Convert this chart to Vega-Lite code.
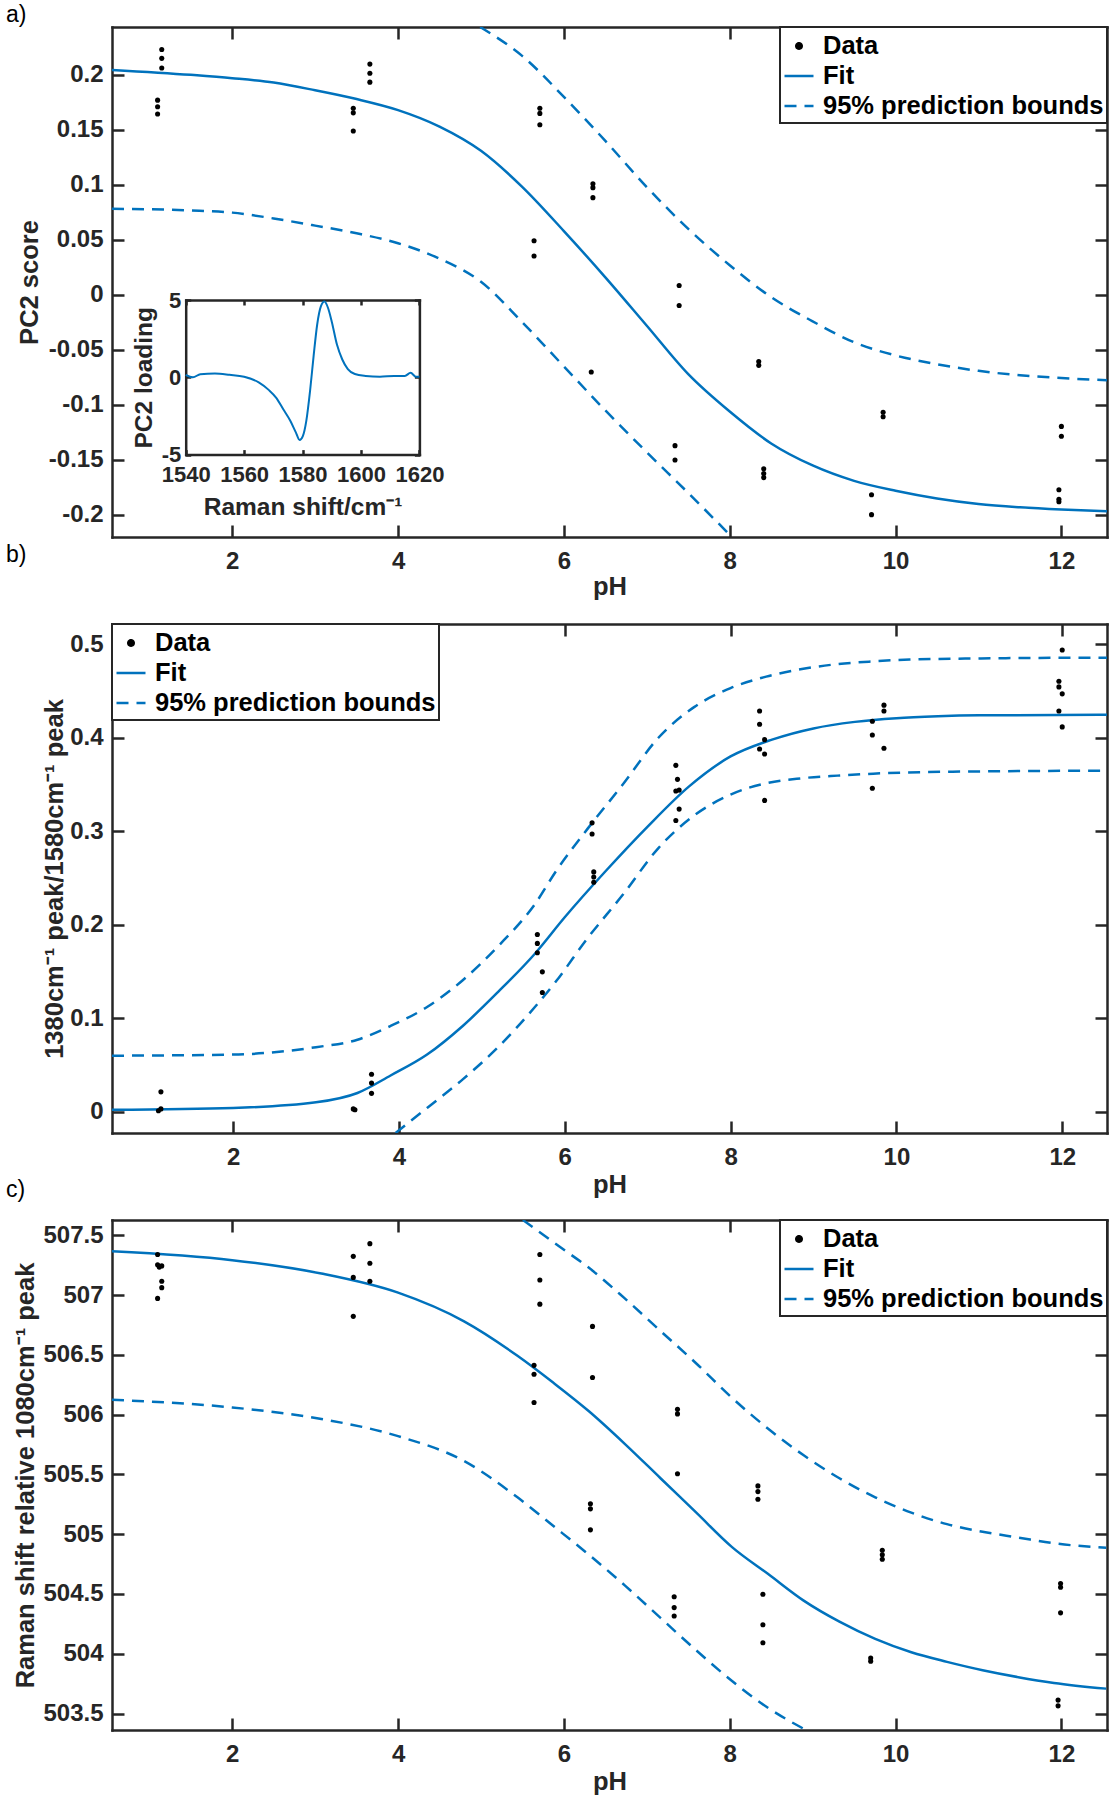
{
  "$schema": "https://vega.github.io/schema/vega-lite/v6.json",
  "background": "white",
  "padding": {"left": 6, "top": 3, "right": 2, "bottom": 2},
  "autosize": {"type": "pad"},
  "bounds": "flush",
  "spacing": 87,
  "resolve": {"scale": {"color": "independent"}, "legend": {"color": "independent"}},
  "config": {
    "font": "Liberation Sans",
    "view": {"stroke": null},
    "axis": {
      "domainColor": "#262626", "domainWidth": 2.5, "domainCap": "square",
      "tickColor": "#262626", "tickWidth": 2.5, "tickSize": -12,
      "grid": false, "minExtent": 0,
      "labelFont": "Liberation Sans", "labelFontSize": 24, "labelFontWeight": "bold", "labelColor": "#262626",
      "labelPadding": 21, "labelFlush": false, "labelOverlap": false,
      "titleFont": "Liberation Sans", "titleFontSize": 25.5, "titleFontWeight": "bold", "titleColor": "#262626"
    },
    "axisX": {"minExtent": 0, "labelPadding": 24},
    "axisY": {"minExtent": 0},
    "legend": {
      "labelFont": "Liberation Sans", "labelFontSize": 25.5, "labelFontWeight": "bold", "labelColor": "#000000", "labelLimit": 0,
      "symbolSize": 841, "labelOffset": 8, "rowPadding": 0, "padding": 3,
      "strokeColor": "#262626", "fillColor": "white", "symbolStrokeWidth": 2.5, "offset": 0
    },
    "title": {"font": "Liberation Sans"}
  },
  "datasets": {
    "a_pts": [
      {"pH": 1.10, "v": 0.177}, {"pH": 1.10, "v": 0.171}, {"pH": 1.10, "v": 0.1644},
      {"pH": 1.15, "v": 0.223}, {"pH": 1.15, "v": 0.215}, {"pH": 1.15, "v": 0.2063},
      {"pH": 3.46, "v": 0.1697}, {"pH": 3.46, "v": 0.1655}, {"pH": 3.46, "v": 0.149},
      {"pH": 3.66, "v": 0.2098}, {"pH": 3.66, "v": 0.2014}, {"pH": 3.66, "v": 0.1934},
      {"pH": 5.64, "v": 0.0493}, {"pH": 5.64, "v": 0.0354},
      {"pH": 5.71, "v": 0.1697}, {"pH": 5.71, "v": 0.165}, {"pH": 5.71, "v": 0.1547},
      {"pH": 6.35, "v": 0.101}, {"pH": 6.35, "v": 0.0975}, {"pH": 6.35, "v": 0.0884}, {"pH": 6.33, "v": -0.070},
      {"pH": 7.39, "v": 0.0086}, {"pH": 7.39, "v": -0.0096}, {"pH": 7.34, "v": -0.137}, {"pH": 7.34, "v": -0.150},
      {"pH": 8.35, "v": -0.0605}, {"pH": 8.35, "v": -0.064},
      {"pH": 8.41, "v": -0.158}, {"pH": 8.41, "v": -0.1624}, {"pH": 8.41, "v": -0.166},
      {"pH": 9.85, "v": -0.1066}, {"pH": 9.85, "v": -0.1107},
      {"pH": 9.71, "v": -0.1816}, {"pH": 9.71, "v": -0.1997},
      {"pH": 12.0, "v": -0.1195}, {"pH": 12.0, "v": -0.1285},
      {"pH": 11.97, "v": -0.177}, {"pH": 11.97, "v": -0.1857}, {"pH": 11.97, "v": -0.188}
    ],
    "a_fit": [
      {"pH": 0.55, "v": 0.2045}, {"pH": 1.5, "v": 0.2}, {"pH": 2.0, "v": 0.197}, {"pH": 2.5, "v": 0.193},
      {"pH": 3.0, "v": 0.186}, {"pH": 3.5, "v": 0.178}, {"pH": 4.0, "v": 0.168}, {"pH": 4.5, "v": 0.153},
      {"pH": 5.0, "v": 0.131}, {"pH": 5.5, "v": 0.098}, {"pH": 6.0, "v": 0.058}, {"pH": 6.5, "v": 0.016},
      {"pH": 7.0, "v": -0.028}, {"pH": 7.5, "v": -0.072}, {"pH": 8.0, "v": -0.106}, {"pH": 8.5, "v": -0.135},
      {"pH": 9.0, "v": -0.155}, {"pH": 9.5, "v": -0.169}, {"pH": 10.0, "v": -0.178}, {"pH": 10.5, "v": -0.185},
      {"pH": 11.0, "v": -0.19}, {"pH": 11.5, "v": -0.193}, {"pH": 12.0, "v": -0.195}, {"pH": 12.55, "v": -0.1965}
    ],
    "a_bnd": [
      {"b": "upper", "pH": 4.99, "v": 0.2435}, {"b": "upper", "pH": 5.5, "v": 0.217}, {"b": "upper", "pH": 6.0, "v": 0.18},
      {"b": "upper", "pH": 6.5, "v": 0.14}, {"b": "upper", "pH": 7.0, "v": 0.098}, {"b": "upper", "pH": 7.5, "v": 0.06},
      {"b": "upper", "pH": 8.0, "v": 0.027}, {"b": "upper", "pH": 8.5, "v": -0.002}, {"b": "upper", "pH": 9.0, "v": -0.024},
      {"b": "upper", "pH": 9.5, "v": -0.043}, {"b": "upper", "pH": 10.0, "v": -0.055}, {"b": "upper", "pH": 10.5, "v": -0.063},
      {"b": "upper", "pH": 11.0, "v": -0.069}, {"b": "upper", "pH": 11.5, "v": -0.073}, {"b": "upper", "pH": 12.0, "v": -0.0755},
      {"b": "upper", "pH": 12.55, "v": -0.0776},
      {"b": "lower", "pH": 0.55, "v": 0.0783}, {"b": "lower", "pH": 1.5, "v": 0.0768}, {"b": "lower", "pH": 2.0, "v": 0.0748},
      {"b": "lower", "pH": 2.5, "v": 0.0695}, {"b": "lower", "pH": 3.0, "v": 0.063}, {"b": "lower", "pH": 3.5, "v": 0.056},
      {"b": "lower", "pH": 4.0, "v": 0.047}, {"b": "lower", "pH": 4.5, "v": 0.033}, {"b": "lower", "pH": 5.0, "v": 0.012},
      {"b": "lower", "pH": 5.5, "v": -0.025}, {"b": "lower", "pH": 6.0, "v": -0.065}, {"b": "lower", "pH": 6.5, "v": -0.105},
      {"b": "lower", "pH": 7.0, "v": -0.143}, {"b": "lower", "pH": 7.5, "v": -0.18}, {"b": "lower", "pH": 8.0, "v": -0.218}
    ],
    "inset": [
      {"shift": 1540, "loading": 0.16}, {"shift": 1542.5, "loading": 0.0}, {"shift": 1545, "loading": 0.2},
      {"shift": 1550, "loading": 0.24}, {"shift": 1555, "loading": 0.16}, {"shift": 1560, "loading": 0.04},
      {"shift": 1565, "loading": -0.33}, {"shift": 1568.5, "loading": -0.83}, {"shift": 1571, "loading": -1.33},
      {"shift": 1573.4, "loading": -2.07}, {"shift": 1575.8, "loading": -2.81}, {"shift": 1577.7, "loading": -3.56},
      {"shift": 1579, "loading": -4.05}, {"shift": 1580.1, "loading": -3.8}, {"shift": 1581.3, "loading": -2.8},
      {"shift": 1582.6, "loading": -0.83}, {"shift": 1583.8, "loading": 1.4}, {"shift": 1585, "loading": 3.4},
      {"shift": 1586.3, "loading": 4.6}, {"shift": 1587.5, "loading": 4.9}, {"shift": 1588.7, "loading": 4.5},
      {"shift": 1590, "loading": 3.6}, {"shift": 1591.8, "loading": 2.1}, {"shift": 1593.6, "loading": 1.15},
      {"shift": 1595.5, "loading": 0.53}, {"shift": 1597.9, "loading": 0.21}, {"shift": 1601.6, "loading": 0.09},
      {"shift": 1606.5, "loading": 0.04}, {"shift": 1611.4, "loading": 0.09}, {"shift": 1615, "loading": 0.09},
      {"shift": 1617, "loading": 0.29}, {"shift": 1618.8, "loading": 0.04}, {"shift": 1620, "loading": 0.04}
    ],
    "b_pts": [
      {"pH": 1.13, "v": 0.0212}, {"pH": 1.13, "v": 0.003}, {"pH": 1.10, "v": 0.001},
      {"pH": 3.47, "v": 0.002}, {"pH": 3.45, "v": 0.003},
      {"pH": 3.67, "v": 0.040}, {"pH": 3.67, "v": 0.0306}, {"pH": 3.67, "v": 0.0196},
      {"pH": 5.67, "v": 0.1895}, {"pH": 5.67, "v": 0.180}, {"pH": 5.67, "v": 0.170}, {"pH": 5.73, "v": 0.1496}, {"pH": 5.73, "v": 0.1275},
      {"pH": 6.33, "v": 0.309}, {"pH": 6.33, "v": 0.297}, {"pH": 6.35, "v": 0.2565}, {"pH": 6.35, "v": 0.251}, {"pH": 6.35, "v": 0.2455},
      {"pH": 7.34, "v": 0.3705}, {"pH": 7.36, "v": 0.3555}, {"pH": 7.34, "v": 0.343}, {"pH": 7.38, "v": 0.344}, {"pH": 7.38, "v": 0.3237}, {"pH": 7.34, "v": 0.3115},
      {"pH": 8.35, "v": 0.4287}, {"pH": 8.35, "v": 0.4145}, {"pH": 8.35, "v": 0.388}, {"pH": 8.41, "v": 0.398}, {"pH": 8.41, "v": 0.3827}, {"pH": 8.41, "v": 0.333},
      {"pH": 9.71, "v": 0.4177}, {"pH": 9.71, "v": 0.403}, {"pH": 9.71, "v": 0.346},
      {"pH": 9.85, "v": 0.4349}, {"pH": 9.85, "v": 0.4287}, {"pH": 9.85, "v": 0.3888},
      {"pH": 12.0, "v": 0.4939}, {"pH": 11.96, "v": 0.4605}, {"pH": 11.96, "v": 0.4544}, {"pH": 12.0, "v": 0.447}, {"pH": 11.96, "v": 0.4287}, {"pH": 12.0, "v": 0.4116}
    ],
    "b_fit": [
      {"pH": 0.54, "v": 0.002}, {"pH": 2.0, "v": 0.004}, {"pH": 3.0, "v": 0.010}, {"pH": 3.5, "v": 0.02},
      {"pH": 3.9, "v": 0.0387}, {"pH": 4.34, "v": 0.0611}, {"pH": 4.77, "v": 0.0917}, {"pH": 5.2, "v": 0.1284},
      {"pH": 5.64, "v": 0.169}, {"pH": 6.0, "v": 0.208}, {"pH": 6.5, "v": 0.258}, {"pH": 7.0, "v": 0.305},
      {"pH": 7.5, "v": 0.348}, {"pH": 8.0, "v": 0.38}, {"pH": 8.5, "v": 0.398}, {"pH": 9.0, "v": 0.41},
      {"pH": 9.5, "v": 0.417}, {"pH": 10.0, "v": 0.421}, {"pH": 10.5, "v": 0.423}, {"pH": 11.0, "v": 0.424}, {"pH": 12.54, "v": 0.4247}
    ],
    "b_bnd": [
      {"b": "upper", "pH": 0.54, "v": 0.0599}, {"b": "upper", "pH": 2.0, "v": 0.0611}, {"b": "upper", "pH": 3.0, "v": 0.069},
      {"b": "upper", "pH": 3.5, "v": 0.077}, {"b": "upper", "pH": 3.9, "v": 0.0917}, {"b": "upper", "pH": 4.34, "v": 0.112},
      {"b": "upper", "pH": 4.77, "v": 0.1406}, {"b": "upper", "pH": 5.2, "v": 0.1773}, {"b": "upper", "pH": 5.64, "v": 0.222},
      {"b": "upper", "pH": 5.9, "v": 0.258}, {"b": "upper", "pH": 6.27, "v": 0.302}, {"b": "upper", "pH": 6.7, "v": 0.35},
      {"b": "upper", "pH": 7.13, "v": 0.4}, {"b": "upper", "pH": 7.56, "v": 0.4328}, {"b": "upper", "pH": 8.0, "v": 0.4532},
      {"b": "upper", "pH": 8.43, "v": 0.4654}, {"b": "upper", "pH": 8.86, "v": 0.4735}, {"b": "upper", "pH": 9.29, "v": 0.4788},
      {"b": "upper", "pH": 9.72, "v": 0.4817}, {"b": "upper", "pH": 10.16, "v": 0.4837}, {"b": "upper", "pH": 11.02, "v": 0.4849},
      {"b": "upper", "pH": 12.54, "v": 0.4857},
      {"b": "lower", "pH": 3.96, "v": -0.0228}, {"b": "lower", "pH": 4.34, "v": 0.004}, {"b": "lower", "pH": 4.77, "v": 0.0346},
      {"b": "lower", "pH": 5.2, "v": 0.0693}, {"b": "lower", "pH": 5.64, "v": 0.112}, {"b": "lower", "pH": 5.9, "v": 0.14},
      {"b": "lower", "pH": 6.27, "v": 0.185}, {"b": "lower", "pH": 6.7, "v": 0.232}, {"b": "lower", "pH": 7.13, "v": 0.282},
      {"b": "lower", "pH": 7.56, "v": 0.3168}, {"b": "lower", "pH": 8.0, "v": 0.3392}, {"b": "lower", "pH": 8.43, "v": 0.3514},
      {"b": "lower", "pH": 8.86, "v": 0.3567}, {"b": "lower", "pH": 9.29, "v": 0.3595}, {"b": "lower", "pH": 9.72, "v": 0.3616},
      {"b": "lower", "pH": 10.59, "v": 0.3636}, {"b": "lower", "pH": 12.54, "v": 0.3648}
    ],
    "c_pts": [
      {"pH": 1.10, "v": 507.34}, {"pH": 1.10, "v": 507.254}, {"pH": 1.12, "v": 507.234}, {"pH": 1.10, "v": 506.972},
      {"pH": 1.15, "v": 507.244}, {"pH": 1.15, "v": 507.116}, {"pH": 1.15, "v": 507.062},
      {"pH": 3.46, "v": 507.324}, {"pH": 3.46, "v": 507.148}, {"pH": 3.46, "v": 506.822},
      {"pH": 3.66, "v": 507.43}, {"pH": 3.66, "v": 507.266}, {"pH": 3.66, "v": 507.116},
      {"pH": 5.64, "v": 506.412}, {"pH": 5.64, "v": 506.338}, {"pH": 5.64, "v": 506.102},
      {"pH": 5.71, "v": 507.34}, {"pH": 5.71, "v": 507.126}, {"pH": 5.71, "v": 506.924},
      {"pH": 6.345, "v": 506.738}, {"pH": 6.345, "v": 506.31},
      {"pH": 6.32, "v": 505.254}, {"pH": 6.32, "v": 505.212}, {"pH": 6.32, "v": 505.036},
      {"pH": 7.37, "v": 506.044}, {"pH": 7.37, "v": 506.006}, {"pH": 7.37, "v": 505.506},
      {"pH": 7.33, "v": 504.476}, {"pH": 7.33, "v": 504.386}, {"pH": 7.33, "v": 504.316},
      {"pH": 8.34, "v": 505.404}, {"pH": 8.34, "v": 505.356}, {"pH": 8.34, "v": 505.292},
      {"pH": 8.40, "v": 504.498}, {"pH": 8.40, "v": 504.242}, {"pH": 8.40, "v": 504.092},
      {"pH": 9.84, "v": 504.866}, {"pH": 9.84, "v": 504.828}, {"pH": 9.84, "v": 504.79},
      {"pH": 9.70, "v": 503.964}, {"pH": 9.70, "v": 503.938},
      {"pH": 11.99, "v": 504.588}, {"pH": 11.99, "v": 504.556}, {"pH": 11.99, "v": 504.342},
      {"pH": 11.96, "v": 503.612}, {"pH": 11.96, "v": 503.564}
    ],
    "c_fit": [
      {"pH": 0.55, "v": 507.366}, {"pH": 2.0, "v": 507.292}, {"pH": 3.075, "v": 507.18}, {"pH": 4.0, "v": 507.02},
      {"pH": 4.796, "v": 506.78}, {"pH": 5.44, "v": 506.492}, {"pH": 5.87, "v": 506.268}, {"pH": 6.302, "v": 506.028},
      {"pH": 6.734, "v": 505.756}, {"pH": 7.165, "v": 505.468}, {"pH": 7.597, "v": 505.18}, {"pH": 8.028, "v": 504.892},
      {"pH": 8.46, "v": 504.668}, {"pH": 8.892, "v": 504.444}, {"pH": 9.323, "v": 504.268}, {"pH": 9.755, "v": 504.124},
      {"pH": 10.19, "v": 504.012}, {"pH": 10.62, "v": 503.932}, {"pH": 11.05, "v": 503.862}, {"pH": 11.48, "v": 503.804},
      {"pH": 11.91, "v": 503.756}, {"pH": 12.54, "v": 503.708}
    ],
    "c_bnd": [
      {"b": "upper", "pH": 5.505, "v": 507.628}, {"b": "upper", "pH": 5.95, "v": 507.404}, {"b": "upper", "pH": 6.302, "v": 507.228},
      {"b": "upper", "pH": 6.734, "v": 506.972}, {"b": "upper", "pH": 7.165, "v": 506.7}, {"b": "upper", "pH": 7.597, "v": 506.428},
      {"b": "upper", "pH": 8.028, "v": 506.14}, {"b": "upper", "pH": 8.46, "v": 505.884}, {"b": "upper", "pH": 8.892, "v": 505.66},
      {"b": "upper", "pH": 9.323, "v": 505.468}, {"b": "upper", "pH": 9.755, "v": 505.308}, {"b": "upper", "pH": 10.19, "v": 505.18},
      {"b": "upper", "pH": 10.62, "v": 505.084}, {"b": "upper", "pH": 11.05, "v": 505.02}, {"b": "upper", "pH": 11.48, "v": 504.972},
      {"b": "upper", "pH": 11.91, "v": 504.924}, {"b": "upper", "pH": 12.54, "v": 504.886},
      {"b": "lower", "pH": 0.55, "v": 506.124}, {"b": "lower", "pH": 2.0, "v": 506.06}, {"b": "lower", "pH": 3.075, "v": 505.964},
      {"b": "lower", "pH": 4.0, "v": 505.82}, {"b": "lower", "pH": 4.796, "v": 505.612}, {"b": "lower", "pH": 5.44, "v": 505.308},
      {"b": "lower", "pH": 5.87, "v": 505.07}, {"b": "lower", "pH": 6.302, "v": 504.828}, {"b": "lower", "pH": 6.734, "v": 504.572},
      {"b": "lower", "pH": 7.165, "v": 504.3}, {"b": "lower", "pH": 7.597, "v": 504.028}, {"b": "lower", "pH": 8.028, "v": 503.772},
      {"b": "lower", "pH": 8.46, "v": 503.548}, {"b": "lower", "pH": 8.892, "v": 503.372}
    ]
  },
  "vconcat": [
    {
      "width": 995, "height": 510,
      "title": {"text": "a)", "anchor": "start", "frame": "group", "orient": "top", "dx": -106, "dy": 24, "offset": 5, "baseline": "alphabetic", "fontSize": 23, "fontWeight": "normal", "color": "#000000"},
      "layer": [
        {
          "layer": [
            {
              "data": {"name": "a_fit"},
              "mark": {"type": "line", "color": "#0072BD", "strokeWidth": 2.5, "interpolate": "monotone", "clip": true},
              "encoding": {
                "x": {"field": "pH", "type": "quantitative", "scale": {"domain": [0.55, 12.55], "nice": false, "zero": false},
                      "axis": {"orient": "bottom", "values": [2, 4, 6, 8, 10, 12], "format": "d", "title": "pH", "titlePadding": 1}},
                "y": {"field": "v", "type": "quantitative", "scale": {"domain": [-0.22, 0.2435], "nice": false, "zero": false},
                      "axis": {"orient": "left", "values": [-0.2, -0.15, -0.1, -0.05, 0, 0.05, 0.1, 0.15, 0.2],
                               "labelExpr": "datum.value < 0 ? '-' + format(-datum.value, '.2~f') : format(datum.value, '.2~f')",
                               "title": "PC2 score", "titlePadding": 6}},
                "color": {"datum": "Fit", "type": "nominal",
                          "scale": {"domain": ["Data", "Fit", "95% prediction bounds"], "range": ["#000000", "#0072BD", "#0072BD"]},
                          "legend": {"title": null, "orient": "top-right",
                                     "encode": {
                                       "legend": {"update": {"strokeWidth": {"value": 2}}},
                                       "symbols": {"update": {
                                         "shape": {"signal": "datum.value === 'Data' ? 'circle' : 'stroke'"},
                                         "size": {"signal": "datum.value === 'Data' ? 30 : 841"},
                                         "fill": {"signal": "datum.value === 'Data' ? '#000000' : 'transparent'"},
                                         "stroke": {"signal": "datum.value === 'Data' ? 'transparent' : '#0072BD'"},
                                         "strokeWidth": {"value": 2.5},
                                         "strokeDash": {"signal": "datum.value === '95% prediction bounds' ? [12, 8] : [1, 0]"},
                                         "opacity": {"value": 1}
                                       }}
                                     }}}
              }
            },
            {
              "data": {"name": "a_bnd"},
              "mark": {"type": "line", "color": "#0072BD", "strokeWidth": 2.5, "strokeDash": [12, 8], "interpolate": "monotone", "clip": true},
              "encoding": {
                "x": {"field": "pH", "type": "quantitative", "scale": {"domain": [0.55, 12.55], "nice": false, "zero": false},
                      "axis": {"orient": "top", "values": [2, 4, 6, 8, 10, 12], "labels": false, "title": null}},
                "y": {"field": "v", "type": "quantitative", "scale": {"domain": [-0.22, 0.2435], "nice": false, "zero": false},
                      "axis": {"orient": "right", "values": [-0.2, -0.15, -0.1, -0.05, 0, 0.05, 0.1, 0.15, 0.2], "labels": false, "title": null}},
                "detail": {"field": "b", "type": "nominal"},
                "color": {"datum": "95% prediction bounds", "type": "nominal"}
              }
            },
            {
              "data": {"name": "a_pts"},
              "mark": {"type": "point", "filled": true, "size": 26, "opacity": 1},
              "encoding": {
                "x": {"field": "pH", "type": "quantitative", "axis": null},
                "y": {"field": "v", "type": "quantitative", "axis": null},
                "color": {"datum": "Data", "type": "nominal"}
              }
            }
          ],
          "resolve": {"axis": {"x": "independent", "y": "independent"}}
        },
        {
          "data": {"name": "inset"},
          "layer": [
            {
              "mark": {"type": "line", "color": "#0072BD", "strokeWidth": 2, "interpolate": "monotone"},
              "encoding": {
                "x": {"field": "shift", "type": "quantitative", "scale": {"domain": [1540, 1620], "range": [73.7, 307.4], "nice": false, "zero": false},
                      "axis": {"orient": "bottom", "offset": -82.4, "values": [1540, 1560, 1580, 1600, 1620], "format": "d", "title": "Raman shift/cm⁻¹",
                               "tickSize": -5, "labelFontSize": 22, "labelPadding": 15, "titleFontSize": 24.5, "titlePadding": 10}},
                "y": {"field": "loading", "type": "quantitative", "scale": {"domain": [-5, 5], "range": [427.6, 273], "nice": false, "zero": false},
                      "axis": {"orient": "left", "offset": -73.7, "values": [-5, 0, 5],
                               "labelExpr": "datum.value < 0 ? '-' + format(-datum.value, 'd') : format(datum.value, 'd')",
                               "title": "PC2 loading", "tickSize": -5, "labelFontSize": 22, "labelPadding": 10, "titleFontSize": 24.5, "titlePadding": 5}}
              }
            },
            {
              "mark": {"type": "line", "opacity": 0},
              "encoding": {
                "x": {"field": "shift", "type": "quantitative", "scale": {"domain": [1540, 1620], "range": [73.7, 307.4], "nice": false, "zero": false},
                      "axis": {"orient": "top", "offset": -273, "values": [1540, 1560, 1580, 1600, 1620], "labels": false, "title": null, "tickSize": -5}},
                "y": {"field": "loading", "type": "quantitative", "scale": {"domain": [-5, 5], "range": [427.6, 273], "nice": false, "zero": false},
                      "axis": {"orient": "right", "offset": -687.6, "values": [-5, 0, 5], "labels": false, "title": null, "tickSize": -5}}
              }
            }
          ],
          "resolve": {"axis": {"x": "independent", "y": "independent"}}
        }
      ],
      "resolve": {"scale": {"x": "independent", "y": "independent"}, "axis": {"x": "independent", "y": "independent"}}
    },
    {
      "width": 995, "height": 509,
      "title": {"text": "b)", "anchor": "start", "frame": "group", "orient": "top", "dx": -106, "dy": 24, "offset": 62, "baseline": "alphabetic", "fontSize": 23, "fontWeight": "normal", "color": "#000000"},
      "layer": [
        {
          "data": {"name": "b_fit"},
          "mark": {"type": "line", "color": "#0072BD", "strokeWidth": 2.5, "interpolate": "monotone", "clip": true},
          "encoding": {
            "x": {"field": "pH", "type": "quantitative", "scale": {"domain": [0.54, 12.54], "nice": false, "zero": false},
                  "axis": {"orient": "bottom", "values": [2, 4, 6, 8, 10, 12], "format": "d", "title": "pH", "titlePadding": 3}},
            "y": {"field": "v", "type": "quantitative", "scale": {"domain": [-0.0228, 0.5217], "nice": false, "zero": false},
                  "axis": {"orient": "left", "values": [0, 0.1, 0.2, 0.3, 0.4, 0.5], "format": ".1~f",
                           "title": "1380cm⁻¹ peak/1580cm⁻¹ peak", "titlePadding": 2}},
            "color": {"datum": "Fit", "type": "nominal",
                      "scale": {"domain": ["Data", "Fit", "95% prediction bounds"], "range": ["#000000", "#0072BD", "#0072BD"]},
                      "legend": {"title": null, "orient": "top-left",
                                 "encode": {
                                   "legend": {"update": {"strokeWidth": {"value": 2}}},
                                   "symbols": {"update": {
                                     "shape": {"signal": "datum.value === 'Data' ? 'circle' : 'stroke'"},
                                     "size": {"signal": "datum.value === 'Data' ? 30 : 841"},
                                     "fill": {"signal": "datum.value === 'Data' ? '#000000' : 'transparent'"},
                                     "stroke": {"signal": "datum.value === 'Data' ? 'transparent' : '#0072BD'"},
                                     "strokeWidth": {"value": 2.5},
                                     "strokeDash": {"signal": "datum.value === '95% prediction bounds' ? [12, 8] : [1, 0]"},
                                     "opacity": {"value": 1}
                                   }}
                                 }}}
          }
        },
        {
          "data": {"name": "b_bnd"},
          "mark": {"type": "line", "color": "#0072BD", "strokeWidth": 2.5, "strokeDash": [12, 8], "interpolate": "monotone", "clip": true},
          "encoding": {
            "x": {"field": "pH", "type": "quantitative", "scale": {"domain": [0.54, 12.54], "nice": false, "zero": false},
                  "axis": {"orient": "top", "values": [2, 4, 6, 8, 10, 12], "labels": false, "title": null}},
            "y": {"field": "v", "type": "quantitative", "scale": {"domain": [-0.0228, 0.5217], "nice": false, "zero": false},
                  "axis": {"orient": "right", "values": [0, 0.1, 0.2, 0.3, 0.4, 0.5], "labels": false, "title": null}},
            "detail": {"field": "b", "type": "nominal"},
            "color": {"datum": "95% prediction bounds", "type": "nominal"}
          }
        },
        {
          "data": {"name": "b_pts"},
          "mark": {"type": "point", "filled": true, "size": 26, "opacity": 1},
          "encoding": {
            "x": {"field": "pH", "type": "quantitative", "axis": null},
            "y": {"field": "v", "type": "quantitative", "axis": null},
            "color": {"datum": "Data", "type": "nominal"}
          }
        }
      ],
      "resolve": {"axis": {"x": "independent", "y": "independent"}}
    },
    {
      "width": 995, "height": 510,
      "title": {"text": "c)", "anchor": "start", "frame": "group", "orient": "top", "dx": -106, "dy": 24, "offset": 23, "baseline": "alphabetic", "fontSize": 23, "fontWeight": "normal", "color": "#000000"},
      "layer": [
        {
          "data": {"name": "c_fit"},
          "mark": {"type": "line", "color": "#0072BD", "strokeWidth": 2.5, "interpolate": "monotone", "clip": true},
          "encoding": {
            "x": {"field": "pH", "type": "quantitative", "scale": {"domain": [0.55, 12.55], "nice": false, "zero": false},
                  "axis": {"orient": "bottom", "values": [2, 4, 6, 8, 10, 12], "format": "d", "title": "pH", "titlePadding": 3}},
            "y": {"field": "v", "type": "quantitative", "scale": {"domain": [503.362, 507.628], "nice": false, "zero": false},
                  "axis": {"orient": "left", "values": [503.5, 504, 504.5, 505, 505.5, 506, 506.5, 507, 507.5], "format": ".1~f",
                           "title": "Raman shift relative 1080cm⁻¹ peak", "titlePadding": 4}},
            "color": {"datum": "Fit", "type": "nominal",
                      "scale": {"domain": ["Data", "Fit", "95% prediction bounds"], "range": ["#000000", "#0072BD", "#0072BD"]},
                      "legend": {"title": null, "orient": "top-right",
                                 "encode": {
                                   "legend": {"update": {"strokeWidth": {"value": 2}}},
                                   "symbols": {"update": {
                                     "shape": {"signal": "datum.value === 'Data' ? 'circle' : 'stroke'"},
                                     "size": {"signal": "datum.value === 'Data' ? 30 : 841"},
                                     "fill": {"signal": "datum.value === 'Data' ? '#000000' : 'transparent'"},
                                     "stroke": {"signal": "datum.value === 'Data' ? 'transparent' : '#0072BD'"},
                                     "strokeWidth": {"value": 2.5},
                                     "strokeDash": {"signal": "datum.value === '95% prediction bounds' ? [12, 8] : [1, 0]"},
                                     "opacity": {"value": 1}
                                   }}
                                 }}}
          }
        },
        {
          "data": {"name": "c_bnd"},
          "mark": {"type": "line", "color": "#0072BD", "strokeWidth": 2.5, "strokeDash": [12, 8], "interpolate": "monotone", "clip": true},
          "encoding": {
            "x": {"field": "pH", "type": "quantitative", "scale": {"domain": [0.55, 12.55], "nice": false, "zero": false},
                  "axis": {"orient": "top", "values": [2, 4, 6, 8, 10, 12], "labels": false, "title": null}},
            "y": {"field": "v", "type": "quantitative", "scale": {"domain": [503.362, 507.628], "nice": false, "zero": false},
                  "axis": {"orient": "right", "values": [503.5, 504, 504.5, 505, 505.5, 506, 506.5, 507, 507.5], "labels": false, "title": null}},
            "detail": {"field": "b", "type": "nominal"},
            "color": {"datum": "95% prediction bounds", "type": "nominal"}
          }
        },
        {
          "data": {"name": "c_pts"},
          "mark": {"type": "point", "filled": true, "size": 26, "opacity": 1},
          "encoding": {
            "x": {"field": "pH", "type": "quantitative", "axis": null},
            "y": {"field": "v", "type": "quantitative", "axis": null},
            "color": {"datum": "Data", "type": "nominal"}
          }
        }
      ],
      "resolve": {"axis": {"x": "independent", "y": "independent"}}
    }
  ]
}
